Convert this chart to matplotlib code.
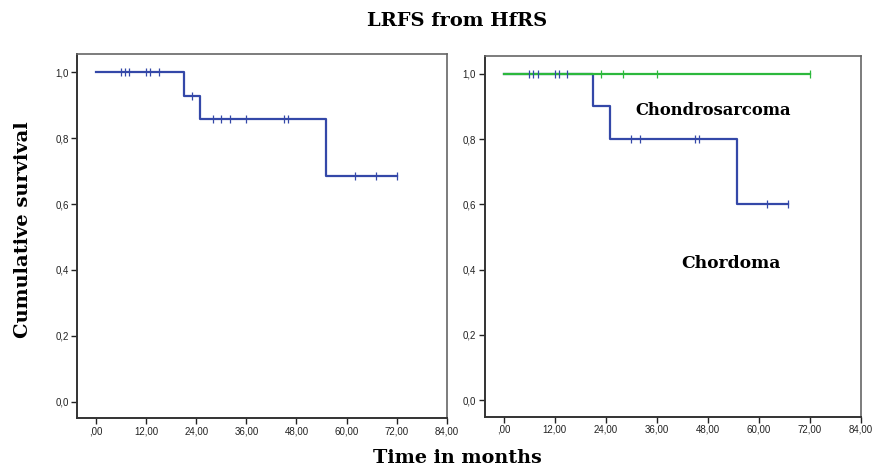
import numpy as np
import matplotlib
matplotlib.use("Agg")
import matplotlib.pyplot as plt

# all HfRS patients (left panel)
all_times = [0, 21, 25, 55, 72]
all_surv = [1.0, 0.929, 0.857, 0.686, 0.686]
all_cens = [6, 7, 8, 12, 13, 15, 23, 28, 30, 32, 36, 45, 46, 62, 67, 72]

# by histology (right panel)
chord_times = [0, 21, 25, 55, 67]
chord_surv = [1.0, 0.9, 0.8, 0.6, 0.6]
chord_cens = [6, 7, 8, 12, 13, 15, 30, 32, 45, 46, 62, 67]

chondro_times = [0, 72]
chondro_surv = [1.0, 1.0]
chondro_cens = [23, 28, 36, 72]

x_ticks = [0, 12, 24, 36, 48, 60, 72, 84]
x_labels = [',00', '12,00', '24,00', '36,00', '48,00', '60,00', '72,00', '84,00']
y_ticks = [0.0, 0.2, 0.4, 0.6, 0.8, 1.0]
y_labels = ['0,0', '0,2', '0,4', '0,6', '0,8', '1,0']

BLUE = '#3448a8'
GREEN = '#2cb83c'
SERIF = ['DejaVu Serif']


def surv_at(times, surv, t):
    # value of the step function at time t
    idx = np.searchsorted(times, t, side='right') - 1
    return np.asarray(surv)[idx]


def km(ax, times, surv, cens, color, z=2):
    ax.step(times, surv, where='post', color=color, lw=1.6, zorder=z)
    ys = surv_at(times, surv, cens)
    ax.plot(cens, ys, ls='none', marker='|', ms=6, mew=0.9, color=color, zorder=z + 2)


def style(ax):
    ax.set_xlim(-4.5, 84)
    ax.set_ylim(-0.05, 1.056)
    ax.set_xticks(x_ticks)
    ax.set_xticklabels(x_labels)
    ax.set_yticks(y_ticks)
    ax.set_yticklabels(y_labels)
    ax.tick_params(direction='out', length=4, width=1.0, labelsize=7, pad=2, colors='#222222')
    for lab in ax.get_xticklabels() + ax.get_yticklabels():
        lab.set_family(['Liberation Sans', 'DejaVu Sans'])
    for s in ['left', 'bottom']:
        ax.spines[s].set_color('#333333')
        ax.spines[s].set_linewidth(1.4)
    for s in ['top', 'right']:
        ax.spines[s].set_color('#666666')
        ax.spines[s].set_linewidth(1.2)


fig = plt.figure(figsize=(8.77, 4.67), dpi=100)
ax1 = fig.add_axes([77 / 877, 1 - 418 / 467, 370 / 877, 364 / 467])
ax2 = fig.add_axes([484.5 / 877, 1 - 416.5 / 467, 376 / 877, 361 / 467])

km(ax1, all_times, all_surv, all_cens, BLUE)
style(ax1)

km(ax2, chord_times, chord_surv, chord_cens, BLUE, z=2)
km(ax2, chondro_times, chondro_surv, chondro_cens, GREEN, z=3)
style(ax2)

ax2.text(31, 0.886, 'Chondrosarcoma', fontsize=11.8, fontweight='bold', family=SERIF, va='center')
ax2.text(41.7, 0.42, 'Chordoma', fontsize=12.3, fontweight='bold', family=SERIF, va='center')

fig.text(457 / 877, 1 - 21 / 467, 'LRFS from HfRS', ha='center', va='center',
         fontsize=14, fontweight='bold', family=SERIF)
fig.text(23 / 877, 1 - 230 / 467, 'Cumulative survival', rotation=90, ha='center', va='center',
         fontsize=14, fontweight='bold', family=SERIF)
fig.text(457.5 / 877, 1 - 458 / 467, 'Time in months', ha='center', va='center',
         fontsize=13.8, fontweight='bold', family=SERIF)

fig.savefig('out.png', dpi=100)
